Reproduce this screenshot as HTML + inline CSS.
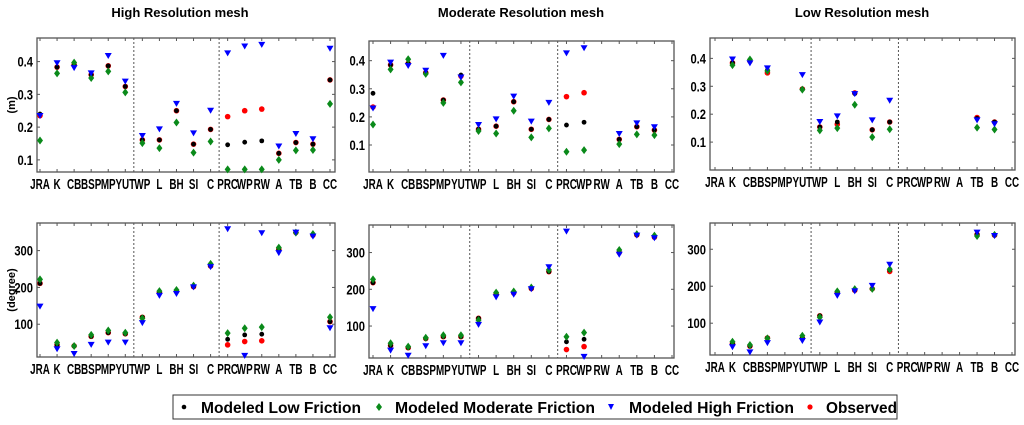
<!DOCTYPE html>
<html><head><meta charset="utf-8"><style>
html,body{margin:0;padding:0;background:#fff;}
svg{display:block;font-family:"Liberation Sans",Arial,sans-serif;font-weight:bold;}
</style></head><body>
<svg id="chart" width="1024" height="425" viewBox="0 0 1024 425" xmlns="http://www.w3.org/2000/svg">
<g id="titles">
<text x="180" y="17" text-anchor="middle" font-size="13">High Resolution mesh</text>
<text x="521" y="17" text-anchor="middle" font-size="13">Moderate Resolution mesh</text>
<text x="862" y="17" text-anchor="middle" font-size="13">Low Resolution mesh</text>
<text transform="translate(15,105) rotate(-90)" text-anchor="middle" font-size="11">(m)</text>
<text transform="translate(15,290) rotate(-90)" text-anchor="middle" font-size="11">(degree)</text>
</g>
<g id="legend">
<rect x="173" y="395" width="724" height="24" fill="#fff" stroke="#333" stroke-width="1"/>
<g><circle cx="184" cy="407" r="2.3" fill="#000"/><text x="201" y="413" font-size="16" textLength="160" lengthAdjust="spacingAndGlyphs">Modeled Low Friction</text></g>
<g><path d="M379,403 L382,407 L379,411 L376,407Z" fill="#0a8a1a"/><text x="395" y="413" font-size="16" textLength="200" lengthAdjust="spacingAndGlyphs">Modeled Moderate Friction</text></g>
<g><path d="M608,404 L614,404 L611,410Z" fill="#0000ff"/><text x="629" y="413" font-size="16" textLength="165" lengthAdjust="spacingAndGlyphs">Modeled High Friction</text></g>
<g><circle cx="810" cy="407" r="2.6" fill="#ff0000"/><text x="826" y="413" font-size="16" textLength="71" lengthAdjust="spacingAndGlyphs">Observed</text></g>
</g>
</svg>
<script>
const categories = ["JRA","K","CB","BSP","MP","YUT","WP","L","BH","SI","C","PRC","WP","RW","A","TB","B","CC"];
const ampTicks = [0.1,0.2,0.3,0.4];
const ampTickLabels = ["0.1","0.2","0.3","0.4"];
const phaseTicks = [100,200,300];
const phaseTickLabels = ["100","200","300"];
const N = null;

const hiAmpLow  = [0.24,0.383,0.39,0.36,0.387,0.324,0.161,0.161,0.25,0.148,0.193,0.146,0.154,0.158,0.12,0.153,0.148,0.344];
const hiAmpMod  = [0.159,0.364,0.397,0.35,0.37,0.306,0.151,0.136,0.214,0.122,0.156,0.071,0.071,0.071,0.1,0.129,0.13,0.271];
const hiAmpHigh = [0.234,0.395,0.38,0.364,0.417,0.339,0.173,0.193,0.271,0.181,0.25,0.425,0.446,0.451,0.141,0.179,0.163,0.439];
const hiAmpObs  = [0.235,0.383,0.39,0.36,0.387,0.324,0.161,0.161,0.25,0.148,0.193,0.232,0.25,0.255,0.12,0.153,0.148,0.344];

const hiPhLow  = [211,44,41,67,77,74,119,186,189,202,258,59,71,73,303,349,342,107];
const hiPhMod  = [222,50,41,71,83,77,116,190,193,205,264,76,89,92,308,349,345,119];
const hiPhHigh = [148,32,19,44,50,50,103,177,182,200,255,358,14,347,293,349,338,89];
const hiPhObs  = [211,44,41,67,77,74,119,186,189,202,258,44,53,55,304,349,342,107];

const moAmpLow  = [0.284,0.385,0.39,0.357,0.26,0.349,0.156,0.167,0.254,0.156,0.191,0.171,0.181,N,0.12,0.165,0.153,N];
const moAmpMod  = [0.173,0.369,0.405,0.353,0.25,0.323,0.15,0.141,0.222,0.127,0.159,0.076,0.082,N,0.103,0.138,0.135,N];
const moAmpHigh = [0.23,0.393,0.381,0.364,0.417,0.34,0.171,0.191,0.272,0.183,0.25,0.426,0.444,N,0.139,0.177,0.163,N];
const moAmpObs  = [0.235,0.385,0.39,0.357,0.26,0.345,0.156,0.167,0.254,0.156,0.191,0.272,0.286,N,0.12,0.165,0.153,N];

const moPhLow  = [218,47,41,66,71,71,121,187,190,202,248,57,64,N,300,348,342,N];
const moPhMod  = [227,53,44,68,75,75,116,191,194,205,253,71,82,N,307,350,346,N];
const moPhHigh = [146,33,19,45,53,53,103,178,185,200,260,357,16,N,294,346,339,N];
const moPhObs  = [218,47,41,66,71,71,121,187,190,202,248,36,44,N,300,348,342,N];

const loAmpLow  = [N,0.384,0.39,0.358,N,0.29,0.154,0.172,0.274,0.144,0.172,N,N,N,N,0.185,0.172,N];
const loAmpMod  = [N,0.376,0.396,0.355,N,0.288,0.142,0.15,0.234,0.118,0.146,N,N,N,N,0.152,0.145,N];
const loAmpHigh = [N,0.396,0.382,0.364,N,0.34,0.172,0.192,0.272,0.178,0.248,N,N,N,N,0.178,0.164,N];
const loAmpObs  = [N,0.384,0.39,0.348,N,0.29,0.154,0.164,0.276,0.144,0.172,N,N,N,N,0.188,0.172,N];

const loPhLow  = [N,45,38,60,N,59,120,182,189,193,244,N,N,N,N,340,338,N];
const loPhMod  = [N,50,41,59,N,66,116,186,192,193,246,N,N,N,N,336,339,N];
const loPhHigh = [N,35,21,46,N,52,102,174,186,201,258,N,N,N,N,345,336,N];
const loPhObs  = [N,45,38,60,N,59,120,182,189,193,240,N,N,N,N,340,338,N];

const NS = "http://www.w3.org/2000/svg";
const svg = document.getElementById("chart");
function mk(tag, attrs, parent){ const e=document.createElementNS(NS,tag); for(const k in attrs) e.setAttribute(k,attrs[k]); (parent||svg).appendChild(e); return e; }

const panels = [
 {id:"high-amplitude", x0:37,x1:335,y0:38,y1:172, c0:40,c1:330, lo:0.063,hi:0.472, ticks:ampTicks, labels:ampTickLabels, s:[hiAmpObs,hiAmpLow,hiAmpMod,hiAmpHigh]},
 {id:"high-phase", x0:37,x1:335,y0:223,y1:357, c0:40,c1:330, lo:11,hi:375, ticks:phaseTicks, labels:phaseTickLabels, s:[hiPhObs,hiPhLow,hiPhMod,hiPhHigh]},
 {id:"moderate-amplitude", x0:369,x1:674,y0:41,y1:172, c0:373,c1:672, lo:0.004,hi:0.47, ticks:ampTicks, labels:ampTickLabels, s:[moAmpObs,moAmpLow,moAmpMod,moAmpHigh]},
 {id:"moderate-phase", x0:369,x1:674,y0:225,y1:358, c0:373,c1:672, lo:13,hi:375, ticks:phaseTicks, labels:phaseTickLabels, s:[moPhObs,moPhLow,moPhMod,moPhHigh]},
 {id:"low-amplitude", x0:710,x1:1015,y0:38,y1:170, c0:715,c1:1012, lo:0,hi:0.473, ticks:ampTicks, labels:ampTickLabels, s:[loAmpObs,loAmpLow,loAmpMod,loAmpHigh]},
 {id:"low-phase", x0:710,x1:1015,y0:223,y1:355, c0:715,c1:1012, lo:14,hi:371, ticks:phaseTicks, labels:phaseTickLabels, s:[loPhObs,loPhLow,loPhMod,loPhHigh]}
];
const seriesNames = ["observed","low-friction","moderate-friction","high-friction"];

panels.forEach(p=>{
  const g = mk("g",{});
  
  
  const xs = i => p.c0 + i*(p.c1-p.c0)/(categories.length-1);
  const ys = v => p.y1 - (v-p.lo)/(p.hi-p.lo)*(p.y1-p.y0);
  const frame = mk("rect",{x:p.x0,y:p.y0,width:p.x1-p.x0,height:p.y1-p.y0,fill:"none",stroke:"#555","stroke-width":1.3},g);
  
  
  [5.5,10.5].forEach(d=>{
    const l = mk("line",{x1:xs(d),x2:xs(d),y1:p.y0,y2:p.y1,stroke:"#555","stroke-width":1,"stroke-dasharray":"2,2"},g);
    
    
  });
  categories.forEach((c,i)=>{
    const x = xs(i);
    mk("line",{x1:x,x2:x,y1:p.y1,y2:p.y1-3,stroke:"#555"},g);
    mk("line",{x1:x,x2:x,y1:p.y0,y2:p.y0+3,stroke:"#555"},g);
    const t = mk("text",{transform:`translate(${x},${p.y1+17}) scale(0.68,1)`,"text-anchor":"middle","font-size":14.5},g);
    t.textContent = c;
    
    
  });
  p.ticks.forEach((v,i)=>{
    const y = ys(v);
    mk("line",{x1:p.x0,x2:p.x0+3,y1:y,y2:y,stroke:"#555"},g);
    mk("line",{x1:p.x1,x2:p.x1-3,y1:y,y2:y,stroke:"#555"},g);
    const t = mk("text",{transform:`translate(${p.x0-4},${y+5}) scale(0.8,1)`,"text-anchor":"end","font-size":14},g);
    t.textContent = p.labels[i];
    
    
  });
  p.s.forEach((arr,si)=>{
    arr.forEach((v,i)=>{
      if(v===null) return;
      const x = xs(i), y = ys(v);
      let m;
      if(si===0) m = mk("circle",{cx:x,cy:y,r:2.8,fill:"#ff0000"},g);
      else if(si===1) m = mk("circle",{cx:x,cy:y,r:2.4,fill:"#000"},g);
      else if(si===2) m = mk("path",{d:`M${x},${y-4} L${x+3},${y} L${x},${y+4} L${x-3},${y}Z`,fill:"#0a8a1a"},g);
      else m = mk("path",{d:`M${x-3.5},${y-3} L${x+3.5},${y-3} L${x},${y+3}Z`,fill:"#0000ff"},g);
      
      
    });
  });
});
</script>
</body></html>
